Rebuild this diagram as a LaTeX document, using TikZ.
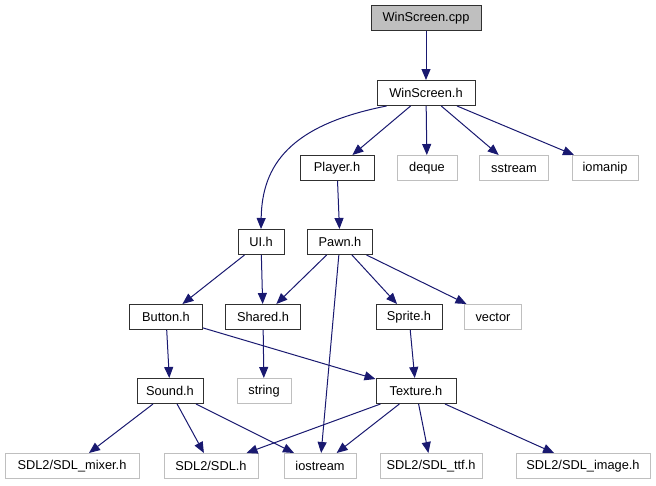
\documentclass[tikz,border=0pt]{standalone}
\usepackage{fontspec}
\setmainfont{Liberation Sans}
\usetikzlibrary{arrows.meta}
\definecolor{edgeblue}{HTML}{191970}
\definecolor{darkborder}{HTML}{303030}
\definecolor{lightborder}{HTML}{BFBFBF}
\definecolor{rootfill}{HTML}{BFBFBF}
\tikzset{
  box/.style={draw=darkborder, line width=1pt, fill=white, inner sep=0pt, minimum height=25pt, font=\fontsize{12.8}{14}\selectfont},
  ext/.style={draw=lightborder, line width=1pt, fill=white, inner sep=0pt, minimum height=25pt, font=\fontsize{12.8}{14}\selectfont},
  root/.style={box, fill=rootfill},
  dep/.style={draw=edgeblue, line width=1pt, -{Triangle[length=11pt,width=9pt]}}
}
\begin{document}
\begin{tikzpicture}[x=1pt,y=-1pt]
\useasboundingbox (0,0) rectangle (656,485);
% nodes
\node[root, minimum width=110pt] (cpp) at (426,18) {WinScreen.cpp};
\node[box, minimum width=98pt] (wh) at (426,93) {WinScreen.h};
\node[box, minimum width=74pt] (player) at (337,168) {Player.h};
\node[ext, minimum width=60pt] (deque) at (427,168) {deque};
\node[ext, minimum width=69pt] (sstream) at (514,168) {sstream};
\node[ext, minimum width=66pt] (iomanip) at (605,168) {iomanip};
\node[box, minimum width=46pt] (ui) at (261,242) {UI.h};
\node[box, minimum width=65pt] (pawn) at (340,242) {Pawn.h};
\node[box, minimum width=73pt] (button) at (166,317) {Button.h};
\node[box, minimum width=75pt] (shared) at (263,317) {Shared.h};
\node[box, minimum width=66pt] (sprite) at (409,317) {Sprite.h};
\node[ext, minimum width=57pt] (vector) at (493,317) {vector};
\node[box, minimum width=66pt] (sound) at (170,391) {Sound.h};
\node[ext, minimum width=54pt] (string) at (264,391) {string};
\node[box, minimum width=80pt] (texture) at (416,391) {Texture.h};
\node[ext, minimum width=134pt] (mixer) at (72,466) {SDL2/SDL\_mixer.h};
\node[ext, minimum width=94pt] (sdl) at (211,466) {SDL2/SDL.h};
\node[ext, minimum width=72pt] (iostream) at (320,466) {iostream};
\node[ext, minimum width=102pt] (ttf) at (431,466) {SDL2/SDL\_ttf.h};
\node[ext, minimum width=134pt] (image) at (583,466) {SDL2/SDL\_image.h};
% edges
\draw[dep] (cpp) -- (wh);
\draw[dep] (wh.south west) ++(10,0) coordinate (wa) .. controls (290,125) and (262,165) .. (ui.north);
\draw[dep] (wh) -- (player);
\draw[dep] (wh) -- (deque);
\draw[dep] (wh) -- (sstream);
\draw[dep] (wh) -- (iomanip);
\draw[dep] (player) -- (pawn);
\draw[dep] (ui) -- (button);
\draw[dep] (ui) -- (shared);
\draw[dep] (pawn) -- (shared);
\draw[dep] (pawn) -- (iostream);
\draw[dep] (pawn) -- (sprite);
\draw[dep] (pawn) -- (vector);
\draw[dep] (button) -- (sound);
\draw[dep] (button) -- (texture);
\draw[dep] (shared) -- (string);
\draw[dep] (sprite) -- (texture);
\draw[dep] (sound) -- (mixer);
\draw[dep] (sound) -- (sdl);
\draw[dep] (sound) -- (iostream);
\draw[dep] (texture) -- (sdl);
\draw[dep] (texture) -- (iostream);
\draw[dep] (texture) -- (ttf);
\draw[dep] (texture) -- (image);
\end{tikzpicture}
\end{document}
